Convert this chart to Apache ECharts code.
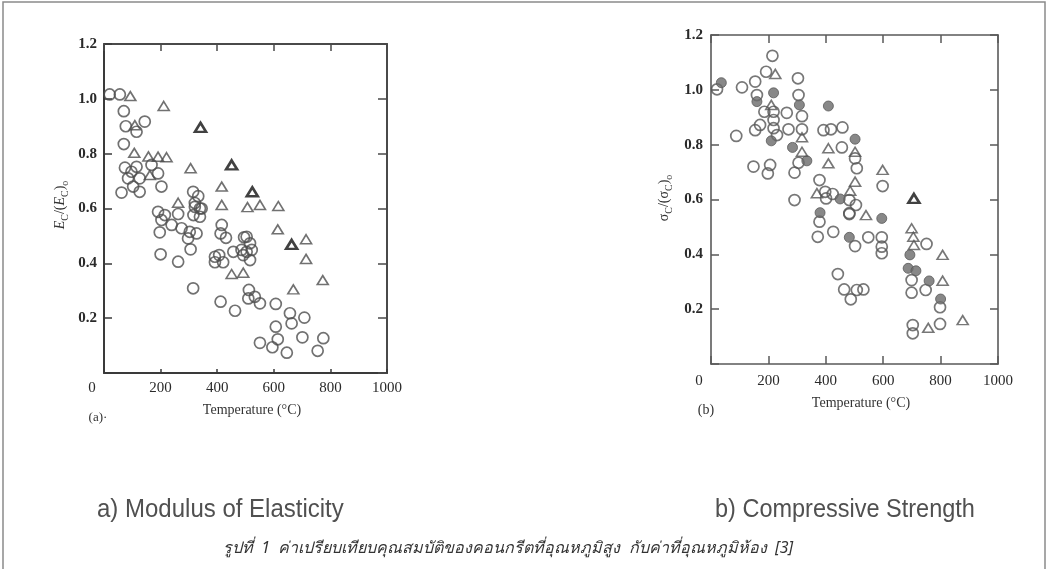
<!DOCTYPE html>
<html>
<head>
<meta charset="utf-8">
<script src="https://cdn.jsdelivr.net/npm/echarts@6/dist/echarts.min.js"></script>
<style>
html,body{margin:0;padding:0;background:#fff;}
#chart{width:1051px;height:569px;filter:blur(0.35px);}
</style>
</head>
<body>
<div id="chart"></div>
<script>
// ---- tick labels ----
const xTicks = [0, 200, 400, 600, 800, 1000];
const yTicks = [0, 0.2, 0.4, 0.6, 0.8, 1.0, 1.2];

// ---- (a) Modulus of Elasticity : [temperature °C, Ec/(Ec)o] ----
const leftCircles = [
  [20,1.016],[56,1.016],[70,0.955],[77,0.90],[115,0.88],[144,0.917],[70,0.835],
  [74,0.749],[97,0.734],[115,0.752],[168,0.759],[191,0.728],[85,0.71],[126,0.71],[103,0.68],[62,0.658],[126,0.661],[203,0.68],
  [315,0.661],[333,0.645],[321,0.62],[345,0.6],
  [191,0.588],[215,0.576],[203,0.558],[262,0.58],[239,0.54],[274,0.528],[197,0.513],[303,0.515],[321,0.606],[339,0.6],[316,0.576],[339,0.57],
  [297,0.491],[327,0.509],[306,0.451],[200,0.433],[262,0.406],[315,0.309],
  [416,0.54],[412,0.509],[431,0.493],[392,0.424],[392,0.404],[421,0.404],[407,0.43],[457,0.442],
  [495,0.495],[504,0.497],[516,0.473],[522,0.449],[486,0.449],[504,0.442],[516,0.412],[492,0.43],
  [412,0.26],[463,0.227],[512,0.303],[510,0.272],[533,0.278],[551,0.254],
  [607,0.252],[657,0.218],[663,0.181],[708,0.202],[607,0.169],[551,0.11],[614,0.123],[595,0.094],[646,0.074],[701,0.13],[775,0.127],[755,0.081]
];
const leftTriangles = [
  [93,1.01],[211,0.974],[109,0.904],[107,0.803],[157,0.79],[191,0.789],[221,0.787],[306,0.747],[162,0.722],
  [416,0.68],[262,0.621],[416,0.613],[507,0.605],[551,0.613],[616,0.609],[614,0.524],[714,0.488],[714,0.416],
  [773,0.339],[669,0.305],[451,0.361],[492,0.366]
];
const leftBoldTriangles = [[341,0.896],[451,0.759],[524,0.661],[663,0.469]];

// ---- (b) Compressive Strength : [temperature °C, σc/(σc)o] ----
const rightOpenCircles = [
  [21,1.002],[108,1.009],[154,1.03],[214,1.124],[192,1.066],[303,1.042],[160,0.981],[305,0.981],[317,0.904],
  [186,0.92],[218,0.92],[264,0.916],[218,0.89],[171,0.872],[154,0.853],[218,0.86],[270,0.856],[317,0.856],
  [392,0.853],[418,0.856],[458,0.863],[88,0.832],[230,0.835],[456,0.79],[305,0.734],[291,0.698],[148,0.72],[206,0.726],[198,0.695],
  [502,0.75],[508,0.714],[378,0.671],[398,0.628],[401,0.604],[424,0.62],[482,0.598],[505,0.58],[482,0.55],[291,0.598],[598,0.649],
  [378,0.519],[372,0.464],[426,0.482],[482,0.547],[502,0.43],[548,0.462],[595,0.462],[595,0.428],[595,0.404],
  [442,0.328],[464,0.272],[487,0.236],[508,0.27],[531,0.272],
  [751,0.438],[699,0.306],[699,0.26],[748,0.27],[798,0.207],[703,0.142],[703,0.112],[798,0.146]
];
const rightFilledCircles = [
  [36,1.026],[218,0.989],[160,0.957],[308,0.945],[409,0.941],[210,0.814],[284,0.79],[334,0.741],[502,0.82],
  [450,0.602],[380,0.552],[595,0.531],[482,0.462],[693,0.398],[687,0.349],[714,0.34],[760,0.303],[800,0.237]
];
const rightTriangles = [
  [224,1.058],[210,0.945],[317,0.827],[317,0.774],[409,0.787],[409,0.732],[502,0.774],[502,0.665],[369,0.623],
  [485,0.632],[540,0.543],[598,0.708],[699,0.495],[705,0.464],[707,0.434],[807,0.398],[807,0.304],[757,0.132],[877,0.16]
];
const rightBoldTriangles = [[707,0.604]];

// ---- texts ----
const xTitle = 'Temperature (°C)';
const captionA = 'a) Modulus of Elasticity';
const captionB = 'b) Compressive Strength';
const captionThai = 'รูปที่  1  ค่าเปรียบเทียบคุณสมบัติของคอนกรีตที่อุณหภูมิสูง  กับค่าที่อุณหภูมิห้อง  [3]';

const SERIF = "'Liberation Serif','DejaVu Serif',serif";
const lblColor = '#2a2a2a';

function xFmt(v){ return v === 0 ? '{z|' + xTicks[0] + '}' : String(xTicks[xTicks.indexOf(v)]); }
function yFmt(v){ return v === 0 ? '' : v.toFixed(1); }

function bottomX(grid, color, w, tickLen, margin){
  return {
    type:'value', gridIndex:grid, position:'bottom', min:xTicks[0], max:xTicks[xTicks.length-1], interval:200,
    axisLine:{show:true, onZero:false, lineStyle:{color:color, width:w}},
    axisTick:{show:true, inside:true, length:tickLen, lineStyle:{color:color, width:1.5}},
    splitLine:{show:false},
    axisLabel:{show:true, margin:margin, formatter:xFmt, color:lblColor, fontFamily:SERIF, fontSize:15,
      rich:{z:{fontFamily:SERIF, fontSize:15, color:lblColor, padding:[0,24,0,0]}}},
    name:xTitle, nameLocation:'middle', nameGap: grid===0 ? 30 : 32,
    nameTextStyle:{fontFamily:SERIF, fontSize:14, color:'#333', padding:[0,0,0,13]}
  };
}
function topX(grid, color, w, tickLen){
  return {
    type:'value', gridIndex:grid, position:'top', min:xTicks[0], max:xTicks[xTicks.length-1], interval:200,
    axisLine:{show:true, onZero:false, lineStyle:{color:color, width:w}},
    axisTick:{show:true, inside:true, length:tickLen, lineStyle:{color:color, width:1.5}},
    splitLine:{show:false}, axisLabel:{show:false}
  };
}
function leftY(grid, color, w, tickLen, margin){
  return {
    type:'value', gridIndex:grid, position:'left', min:yTicks[0], max:yTicks[yTicks.length-1], interval:0.2,
    axisLine:{show:true, onZero:false, lineStyle:{color:color, width:w}},
    axisTick:{show:true, inside:true, length:tickLen, lineStyle:{color:color, width:1.5}},
    splitLine:{show:false},
    axisLabel:{show:true, margin:margin, formatter:yFmt, color:lblColor, fontFamily:SERIF, fontSize:15, fontWeight:'bold'}
  };
}
function rightY(grid, color, w, tickLen){
  return {
    type:'value', gridIndex:grid, position:'right', min:yTicks[0], max:yTicks[yTicks.length-1], interval:0.2,
    axisLine:{show:true, onZero:false, lineStyle:{color:color, width:w}},
    axisTick:{show:true, inside:true, length:tickLen, lineStyle:{color:color, width:1.5}},
    splitLine:{show:false}, axisLabel:{show:false}
  };
}

const openStyle = (c, w) => ({color:'rgba(0,0,0,0)', borderColor:c, borderWidth:w});
const CAPFONT = "'Liberation Sans Narrow','Liberation Sans',sans-serif";

const chart = echarts.init(document.getElementById('chart'), null, {renderer:'canvas'});
chart.setOption({
  backgroundColor:'#ffffff',
  animation:false,
  grid:[
    {left:104, top:44, width:283, height:329, show:false},
    {left:711, top:35, width:287, height:329, show:false}
  ],
  xAxis:[
    bottomX(0,'#3a3a3a',2,4,8),
    topX(0,'#4a4a4a',2,7),
    bottomX(1,'#5a5a5a',1.6,8,10),
    topX(1,'#5a5a5a',1.6,8)
  ],
  yAxis:[
    leftY(0,'#3a3a3a',2,8,7),
    rightY(0,'#4a4a4a',2,9),
    leftY(1,'#5a5a5a',1.6,8,8),
    rightY(1,'#5a5a5a',1.6,8)
  ],
  series:[
    {type:'scatter', xAxisIndex:0, yAxisIndex:0, data:leftCircles, symbol:'circle', symbolSize:11,
      itemStyle:openStyle('#4d4d4d',1.7)},
    {type:'scatter', xAxisIndex:0, yAxisIndex:0, data:leftTriangles, symbol:'triangle', symbolSize:[11,9],
      itemStyle:openStyle('#4d4d4d',1.6)},
    {type:'scatter', xAxisIndex:0, yAxisIndex:0, data:leftBoldTriangles, symbol:'triangle', symbolSize:[11,9],
      itemStyle:openStyle('#111',2.6)},
    {type:'scatter', xAxisIndex:2, yAxisIndex:2, data:rightOpenCircles, symbol:'circle', symbolSize:11,
      itemStyle:openStyle('#555',1.7)},
    {type:'scatter', xAxisIndex:2, yAxisIndex:2, data:rightFilledCircles, symbol:'circle', symbolSize:10,
      itemStyle:{color:'#6a6a6a', borderColor:'#5a5a5a', borderWidth:1}},
    {type:'scatter', xAxisIndex:2, yAxisIndex:2, data:rightTriangles, symbol:'triangle', symbolSize:[11,9],
      itemStyle:openStyle('#555',1.6)},
    {type:'scatter', xAxisIndex:2, yAxisIndex:2, data:rightBoldTriangles, symbol:'triangle', symbolSize:[11,9],
      itemStyle:openStyle('#111',2.6)}
  ],
  graphic:[
    {type:'rect', shape:{x:3, y:2, width:1042, height:620}, style:{fill:'none', stroke:'#8a8a8a', lineWidth:1.5}, silent:true},
    {type:'text', x:60, y:205, rotation:Math.PI/2, style:{
      text:'{i|E}{s|C}{n|/(}{i|E}{s|C}{n|)}{s|o}', align:'center', verticalAlign:'middle',
      rich:{i:{fontFamily:SERIF, fontStyle:'italic', fontSize:14, lineHeight:20, fill:'#333'},
            n:{fontFamily:SERIF, fontSize:14, lineHeight:20, fill:'#333'},
            s:{fontFamily:SERIF, fontSize:10, lineHeight:12, verticalAlign:'bottom', fill:'#333'}}}},
    {type:'text', x:664, y:198, rotation:Math.PI/2, style:{
      text:'{i|σ}{s|C}{n|/(}{i|σ}{s|C}{n|)}{s|o}', align:'center', verticalAlign:'middle',
      rich:{i:{fontFamily:SERIF, fontSize:14, lineHeight:20, fill:'#333'},
            n:{fontFamily:SERIF, fontSize:14, lineHeight:20, fill:'#333'},
            s:{fontFamily:SERIF, fontSize:10, lineHeight:12, verticalAlign:'bottom', fill:'#333'}}}},
    {type:'text', x:98, y:418, style:{text:'(a)·', align:'center', verticalAlign:'middle', fontFamily:SERIF, fontSize:13, fill:'#333'}},
    {type:'text', x:706, y:410, style:{text:'(b)', align:'center', verticalAlign:'middle', fontFamily:SERIF, fontSize:14, fill:'#333'}},
    {type:'text', x:97, y:510, scaleY:1.08, style:{text:captionA, align:'left', verticalAlign:'middle',
      fontFamily:CAPFONT, fontSize:24, fill:'#505050'}},
    {type:'text', x:715, y:510, scaleY:1.08, style:{text:captionB, align:'left', verticalAlign:'middle',
      fontFamily:CAPFONT, fontSize:23.5, fill:'#505050'}},
    {type:'text', x:508, y:548, style:{text:captionThai, align:'center', verticalAlign:'middle',
      fontFamily:"'Noto Sans','DejaVu Sans',sans-serif", fontStyle:'italic', fontSize:16, fill:'#333'}}
  ]
});
</script>
</body>
</html>
